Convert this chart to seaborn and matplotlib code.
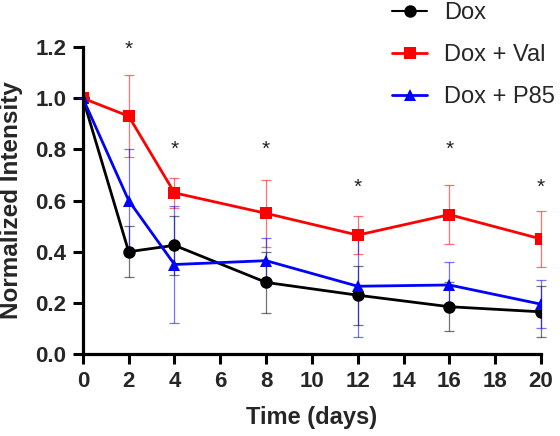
import matplotlib
matplotlib.use("Agg")
import matplotlib.pyplot as plt
import pandas as pd
import numpy as np
import seaborn as sns

# data
days = [0, 2, 4, 8, 12, 16, 20]
groups = ["Dox", "Dox + Val", "Dox + P85"]
dox = [1.0, 0.40, 0.425, 0.28, 0.23, 0.185, 0.165]
dox_err = [0.0, 0.10, 0.115, 0.12, 0.115, 0.095, 0.10]
val = [1.0, 0.93, 0.63, 0.55, 0.465, 0.545, 0.45]
val_err = [0.0, 0.16, 0.06, 0.13, 0.075, 0.115, 0.11]
p85 = [1.0, 0.60, 0.35, 0.365, 0.265, 0.27, 0.195]
p85_err = [0.0, 0.20, 0.23, 0.09, 0.20, 0.09, 0.095]
star_days = [2, 4, 8, 12, 16, 20]
star_y = [1.19, 0.80, 0.80, 0.65, 0.80, 0.65]

df = pd.DataFrame({
    "Time": days * 3,
    "Intensity": dox + val + p85,
    "err": dox_err + val_err + p85_err,
    "Group": [g for g in groups for _ in days],
})

sns.set_style("ticks")
plt.rcParams["font.family"] = ["Liberation Sans", "DejaVu Sans"]

colors = {"Dox": "black", "Dox + Val": "#ff0000", "Dox + P85": "#0000ff"}
marks = {"Dox": "o", "Dox + Val": "s", "Dox + P85": "^"}
zord = {"Dox": 5, "Dox + Val": 4, "Dox + P85": 3}
lw = {"Dox": 1.5, "Dox + Val": 2.0, "Dox + P85": 2.0}

fig = plt.figure(figsize=(5.6, 4.36), dpi=100)
ax = fig.add_axes([0.148, 0.188, 0.818, 0.704])

# error bars, thin and faded like the original
for g in groups:
    sub = df[df["Group"] == g]
    eb = ax.errorbar(sub["Time"], sub["Intensity"], yerr=sub["err"], fmt="none",
                     ecolor=colors[g], elinewidth=0.9, capsize=3.5, capthick=0.9,
                     alpha=0.55, zorder=2)
    for art in eb.lines[1] + eb.lines[2]:
        art.set_clip_on(False)

sns.lineplot(data=df, x="Time", y="Intensity", hue="Group", style="Group",
             hue_order=groups, style_order=groups, palette=colors,
             markers=marks, dashes=False, markersize=9, linewidth=2,
             markeredgewidth=0, ax=ax)
for line in ax.get_lines():
    lab = line.get_label()
    if lab in zord:
        line.set_zorder(zord[lab])
        line.set_linewidth(lw[lab])
        line.set_clip_on(False)

for d, y in zip(star_days, star_y):
    ax.text(d, y, "*", ha="center", va="center", fontsize=15, color="#222222")

ax.set_xlim(0, 20)
ax.set_ylim(0, 1.2)
ax.set_xticks(range(0, 21, 2))
ax.set_yticks(np.arange(0, 1.21, 0.2))
ax.set_yticklabels([f"{v:.1f}" for v in np.arange(0, 1.21, 0.2)])
ax.set_xlabel("Time (days)", fontsize=17, fontweight="bold", labelpad=10)
ax.set_ylabel("Normalized Intensity", fontsize=17.5, fontweight="bold", labelpad=9)
for lbl in ax.get_xticklabels() + ax.get_yticklabels():
    lbl.set_fontweight("bold")
ax.tick_params(labelsize=16, width=2.2, length=7, color="black", pad=5)
sns.despine(ax=ax)
for s in ["left", "bottom"]:
    ax.spines[s].set_linewidth(2.3)
    ax.spines[s].set_color("black")

handles, labels = ax.get_legend_handles_labels()
ax.legend(handles, labels, loc="upper left", bbox_to_anchor=(392 / 560, 0.995),
          bbox_transform=fig.transFigure, frameon=False, fontsize=17,
          handlelength=1.5, handletextpad=0.7, labelspacing=0.84,
          borderpad=0, borderaxespad=0)

fig.savefig("out.png", dpi=100)
